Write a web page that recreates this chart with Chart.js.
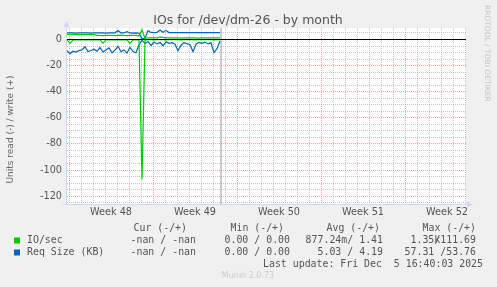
<!DOCTYPE html>
<html>
<head>
<meta charset="utf-8">
<script src="https://cdn.jsdelivr.net/npm/chart.js@4/dist/chart.umd.min.js"></script>
<style>
  html, body { margin: 0; padding: 0; background: #f0f0f0; }
  canvas { display: block; }
</style>
</head>
<body>
<canvas id="chartIO" width="497" height="287"></canvas>
<script>
// time in days from the Monday of week 48, one sample every 6 h
const startDay = -1 / 6;
const stepDay = 0.25;
const nowDay = 12.67;

const ioRead = [-0.3, -3.0, -0.3, -0.3, -0.2, -0.3, -0.2, -0.3, -0.3, -0.2, -0.3, -0.3, -2.8, -0.3, -0.2, -0.3, -0.3, -0.2, -0.3, -0.3, -0.2, -2.9, -0.3, -0.2, -0.5, -107, -0.5, -0.2, -0.2, -0.3, -0.2, -0.2, -0.2, -0.3, -0.2, -0.2, -0.2, -0.2, -0.3, -0.2, -0.2, -0.2, -0.2, -0.3, -0.2, -0.2, -0.2, -0.2, -0.2, -0.3, -0.2, -0.2];
const ioWrite = [3.9, 4.0, 3.9, 3.9, 3.8, 3.9, 3.8, 3.7, 3.8, 3.7, 3.2, 3.1, 3.0, 3.1, 3.2, 3.1, 3.0, 3.2, 3.3, 3.1, 3.0, 3.1, 3.2, 3.1, 2.8, 7.5, 0.8, 1.2, 1.3, 1.2, 1.3, 2.0, 1.6, 1.3, 1.2, 1.2, 1.3, 1.2, 1.1, 1.2, 1.2, 1.3, 1.2, 1.2, 1.1, 1.2, 1.2, 1.3, 1.2, 1.2, 1.2, 1.2];
const sizeRead = [-8.5, -10.8, -9.0, -9.6, -8.4, -8.0, -5.6, -9.2, -8.4, -7.4, -9.0, -6.2, -9.6, -8.0, -6.4, -10.2, -8.2, -5.2, -9.4, -8.0, -10.4, -6.0, -9.2, -10.2, -4.0, -0.5, -3.0, -1.5, -4.6, -2.0, -3.4, -2.2, -4.8, -1.8, -3.0, -2.4, -3.6, -8.6, -4.4, -2.4, -3.2, -4.0, -9.4, -3.6, -2.2, -3.0, -2.0, -3.4, -2.6, -10.0, -7.0, -1.2];
const sizeWrite = [5.0, 5.1, 5.0, 4.9, 5.0, 5.1, 5.0, 5.0, 4.9, 5.0, 5.1, 5.0, 5.0, 4.9, 5.0, 5.0, 5.1, 6.8, 5.0, 5.0, 6.0, 5.0, 4.9, 5.0, 4.8, 0.5, 0.8, 6.8, 5.4, 5.3, 5.5, 7.2, 5.6, 7.0, 5.3, 5.2, 5.2, 5.3, 5.2, 5.2, 5.2, 5.2, 5.3, 5.2, 5.2, 5.2, 5.2, 5.2, 5.3, 5.2, 5.2, 5.2];

const weekLabels = ['Week 48', 'Week 49', 'Week 50', 'Week 51', 'Week 52'];
const yLabelTicks = [-120, -100, -80, -60, -40, -20, 0];

const legendHeads = ['Cur (-/+)', 'Min (-/+)', 'Avg (-/+)', 'Max (-/+)'];
const ioStats = ['-nan / -nan', '0.00 / 0.00', '877.24m/ 1.41', '1.35k/111.69'];
const sizeStats = ['-nan / -nan', '0.00 / 0.00', '5.03 / 4.19', '57.31 /53.76'];

const xMin = -1 / 6, xMax = 33.083;
const yMin = -126, yMax = 8.8;

const toPoints = arr => arr.map((v, i) => ({ x: startDay + i * stepDay, y: v }));

const xTicks = [];
for (let d = 0; d <= 33; d++) xTicks.push(d);
for (let w = 0; w < weekLabels.length; w++) xTicks.push(w * 7 + 3.5);
xTicks.sort((a, b) => a - b);
const yTicks = [];
for (let v = -125; v <= 5; v += 5) yTicks.push(v);

const GREEN = '#00cc00', BLUE = '#0066b3';
const MINOR = 'rgba(150,150,150,0.55)', MAJOR = 'rgba(222,90,90,0.55)';
const AXIS = '#cfd6f8';

const decor = {
  id: 'decor',
  beforeDraw(chart) {
    const { ctx, chartArea: a } = chart;
    ctx.save();
    ctx.fillStyle = '#f0f0f0';
    ctx.fillRect(0, 0, chart.width, chart.height);
    ctx.fillStyle = '#ffffff';
    ctx.fillRect(a.left, a.top, a.right - a.left, a.bottom - a.top);
    ctx.restore();
  },
  afterDraw(chart) {
    const { ctx, chartArea: a } = chart;
    ctx.save();
    // axes and arrows
    ctx.strokeStyle = AXIS;
    ctx.lineWidth = 1;
    ctx.beginPath();
    ctx.moveTo(a.left - 0.5, a.bottom + 0.5);
    ctx.lineTo(a.left - 0.5, a.top - 4);
    ctx.moveTo(a.left - 4, a.bottom + 0.5);
    ctx.lineTo(a.right + 2, a.bottom + 0.5);
    ctx.stroke();
    ctx.fillStyle = AXIS;
    ctx.beginPath();
    ctx.moveTo(a.left - 3.5, a.top - 1);
    ctx.lineTo(a.left + 2.5, a.top - 1);
    ctx.lineTo(a.left - 0.5, a.top - 7);
    ctx.fill();
    ctx.beginPath();
    ctx.moveTo(a.right + 1, a.bottom - 2.5);
    ctx.lineTo(a.right + 1, a.bottom + 3.5);
    ctx.lineTo(a.right + 7, a.bottom + 0.5);
    ctx.fill();

    // title
    ctx.fillStyle = '#555';
    ctx.font = '12.5px "DejaVu Sans"';
    ctx.textAlign = 'center';
    ctx.textBaseline = 'alphabetic';
    ctx.fillText('IOs for /dev/dm-26 - by month', 248, 23.5);

    // y title
    ctx.save();
    ctx.translate(10.5, 129.5);
    ctx.rotate(-Math.PI / 2);
    ctx.font = '9px "DejaVu Sans"';
    ctx.fillStyle = '#666';
    ctx.textBaseline = 'middle';
    ctx.fillText('Units read (-) / write (+)', 0, 0);
    ctx.restore();

    // watermark
    ctx.save();
    ctx.translate(487, 5);
    ctx.rotate(Math.PI / 2);
    ctx.font = '7.5px "DejaVu Sans"';
    ctx.fillStyle = '#c4c4c4';
    ctx.textAlign = 'left';
    ctx.textBaseline = 'middle';
    ctx.fillText('RRDTOOL / TOBI OETIKER', 0, 0);
    ctx.restore();

    // legend
    ctx.font = '9.9px "DejaVu Sans Mono"';
    ctx.fillStyle = '#555';
    ctx.textBaseline = 'middle';
    ctx.textAlign = 'right';
    const headEnds = [187, 284, 380, 476];
    legendHeads.forEach((h, i) => ctx.fillText(h, headEnds[i], 228));
    const colEnds = [196, 290, 383, 476];
    const cw = 5.96;
    const drawRow = (stats, y) => {
      stats.forEach((s, i) => {
        const k = s.indexOf('/');
        ctx.fillText(s.slice(0, k), colEnds[i] - 6 * cw, y);
        ctx.fillText(s.slice(k), colEnds[i], y);
      });
    };
    drawRow(ioStats, 240.5);
    drawRow(sizeStats, 252.5);
    ctx.textAlign = 'left';
    ctx.fillText('IO/sec', 27, 240.5);
    ctx.fillText('Req Size (KB)', 27, 252.5);
    ctx.textAlign = 'right';
    ctx.fillText('Last update: Fri Dec  5 16:40:03 2025', 483, 264);
    ctx.fillStyle = GREEN;
    ctx.fillRect(14, 237.5, 6, 6);
    ctx.fillStyle = BLUE;
    ctx.fillRect(14, 249.5, 6, 6);

    ctx.font = '8px "DejaVu Sans"';
    ctx.fillStyle = '#cccccc';
    ctx.textAlign = 'center';
    ctx.fillText('Munin 2.0.73', 248, 276);
    ctx.restore();
  }
};

new Chart(document.getElementById('chartIO'), {
  type: 'line',
  data: {
    datasets: [
      { data: [{ x: xMin, y: 0 }, { x: xMax, y: 0 }], borderColor: '#000', borderWidth: 1, order: 0 },
      { data: toPoints(ioRead), borderColor: GREEN, borderWidth: 1.2, order: 1 },
      { data: toPoints(ioWrite), borderColor: GREEN, borderWidth: 1.2, order: 1 },
      { data: toPoints(sizeRead), borderColor: BLUE, borderWidth: 1.2, order: 2 },
      { data: toPoints(sizeWrite), borderColor: BLUE, borderWidth: 1.2, order: 2 },
      { data: [{ x: nowDay, y: yMin }, { x: nowDay, y: yMax }], borderColor: '#999', borderWidth: 1, order: 3 }
    ]
  },
  options: {
    responsive: false,
    animation: false,
    devicePixelRatio: 1,
    layout: { padding: { left: 0, top: 28, right: 31, bottom: 63 } },
    elements: { point: { radius: 0 }, line: { tension: 0, fill: false } },
    plugins: { legend: { display: false }, tooltip: { enabled: false }, title: { display: false } },
    scales: {
      x: {
        type: 'linear',
        min: xMin,
        max: xMax,
        afterFit: s => { s.height = 20; },
        afterBuildTicks: s => { s.ticks = xTicks.map(v => ({ value: v })); },
        grid: {
          drawTicks: false,
          lineWidth: 1,
          color: c => {
            const v = c.tick.value;
            if (!Number.isInteger(v)) return 'rgba(0,0,0,0)';
            return v % 7 === 0 ? MAJOR : MINOR;
          }
        },
        border: { display: false, dash: [1, 1] },
        ticks: {
          autoSkip: false,
          maxRotation: 0,
          padding: 3,
          color: '#555',
          font: { family: 'DejaVu Sans', size: 9.7 },
          callback: v => Number.isInteger(v) ? '' : weekLabels[Math.floor(v / 7)]
        }
      },
      y: {
        min: yMin,
        max: yMax,
        afterFit: s => { s.width = 67; },
        afterBuildTicks: s => { s.ticks = yTicks.map(v => ({ value: v })); },
        grid: {
          drawTicks: false,
          lineWidth: 1,
          color: c => c.tick.value % 20 === 0 ? MAJOR : MINOR
        },
        border: { display: false, dash: [1, 1] },
        ticks: {
          autoSkip: false,
          padding: 5,
          color: '#555',
          font: { family: 'DejaVu Sans', size: 9.7 },
          callback: v => yLabelTicks.includes(v) ? String(v) : ''
        }
      }
    }
  },
  plugins: [decor]
});
</script>
</body>
</html>
